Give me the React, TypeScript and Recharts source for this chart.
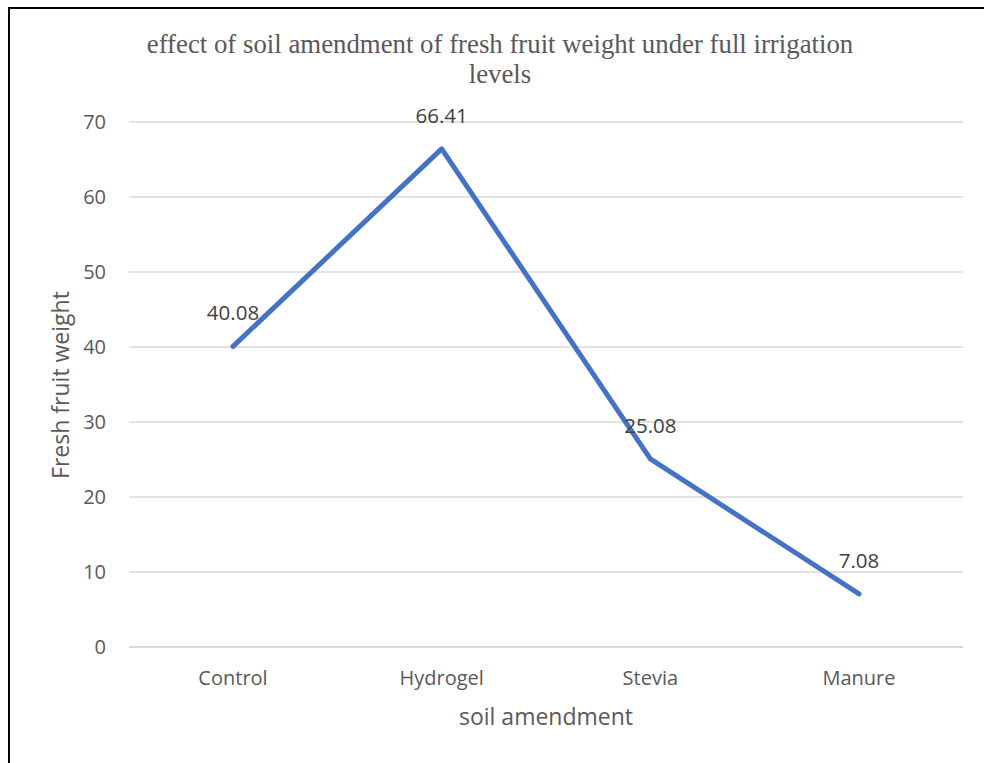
import { CartesianGrid, LabelList, Line, LineChart, XAxis, YAxis } from "recharts";

const amendments = ["Control", "Hydrogel", "Stevia", "Manure"];
const freshWeight = [40.08, 66.41, 25.08, 7.08];
const yTicks = [0, 10, 20, 30, 40, 50, 60, 70];

const data = amendments.map((name, i) => ({ name, weight: freshWeight[i] }));

const labelFont = "'Open Sans', 'Noto Sans', sans-serif";

function PointLabel(props: { x?: number; y?: number; value?: number }) {
  const { x = 0, y = 0, value } = props;
  return (
    <text x={x} y={y - 26} textAnchor="middle" fill="#404040" fontSize={20.5} fontFamily={labelFont}>
      {value}
    </text>
  );
}

export default function App() {
  return (
    <div style={{ position: "absolute", left: 0, top: 0, width: 984, height: 763, overflow: "hidden", background: "#fff" }}>
      {/* frame edges: only left and top fall inside the picture */}
      <div style={{ position: "absolute", left: 8, top: 7, width: 976, height: 2, background: "#000" }} />
      <div style={{ position: "absolute", left: 8, top: 7, width: 2, height: 756, background: "#000" }} />
      <div
        style={{
          position: "absolute",
          left: 0,
          top: 29,
          width: 1000,
          textAlign: "center",
          fontFamily: "'Liberation Serif', 'DejaVu Serif', serif",
          fontSize: 26.8,
          lineHeight: "30px",
          color: "#595959",
        }}
      >
        effect of soil amendment of fresh fruit weight under full irrigation
        <br />
        levels
      </div>
      <LineChart
        width={984}
        height={763}
        data={data}
        margin={{ top: 122, right: 21, bottom: 86, left: 69 }}
        style={{ position: "absolute", left: 0, top: 0 }}
      >
        <CartesianGrid vertical={false} stroke="#d9d9d9" strokeWidth={1.5} />
        <XAxis
          dataKey="name"
          height={30}
          padding={{ left: 104, right: 104 }}
          axisLine={{ stroke: "#d9d9d9", strokeWidth: 1.5 }}
          tickLine={false}
          tickSize={0}
          tickMargin={24}
          tick={{ fill: "#595959", fontSize: 20, fontFamily: labelFont }}
        />
        <YAxis
          width={60}
          domain={[0, 70]}
          ticks={yTicks}
          axisLine={false}
          tickLine={false}
          tickSize={0}
          tickMargin={23}
          tick={{ fill: "#595959", fontSize: 20, fontFamily: labelFont }}
        />
        <Line
          type="linear"
          dataKey="weight"
          stroke="#4472c4"
          strokeWidth={5}
          strokeLinecap="round"
          strokeLinejoin="round"
          dot={false}
          activeDot={false}
          isAnimationActive={false}
        >
          <LabelList dataKey="weight" content={<PointLabel />} />
        </Line>
      </LineChart>
      <div
        style={{
          position: "absolute",
          left: 129,
          width: 834,
          top: 700,
          textAlign: "center",
          fontFamily: labelFont,
          fontSize: 23,
          lineHeight: "32px",
          color: "#595959",
        }}
      >
        soil amendment
      </div>
      <div
        style={{
          position: "absolute",
          left: 60,
          top: 385,
          transform: "translate(-50%, -50%) rotate(-90deg)",
          whiteSpace: "nowrap",
          fontFamily: labelFont,
          fontSize: 23,
          lineHeight: "32px",
          color: "#595959",
        }}
      >
        Fresh fruit weight
      </div>
    </div>
  );
}
